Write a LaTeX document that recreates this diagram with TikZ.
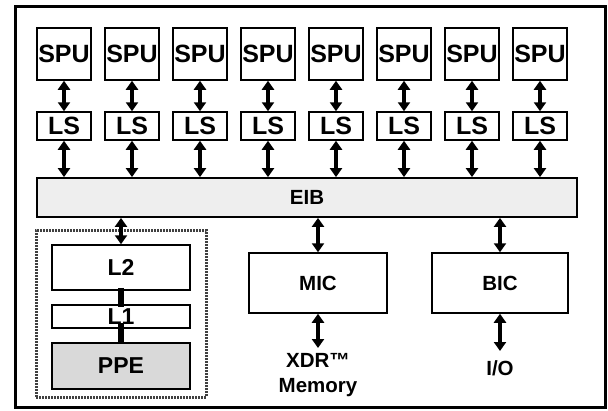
\documentclass[tikz,border=0pt]{standalone}
\usepackage{fontspec}
\setmainfont{Liberation Sans}
\usepackage{tikz}
\usetikzlibrary{arrows.meta,positioning}
\definecolor{BusGray}{HTML}{EEEEEE}
\definecolor{CoreGray}{HTML}{D9D9D9}
\definecolor{FrameGray}{HTML}{404040}
\newcommand{\bigtxt}{\fontsize{25}{28}\selectfont\bfseries}
\newcommand{\midtxt}{\fontsize{23}{26}\selectfont\bfseries}
\newcommand{\smalltxt}{\fontsize{20.5}{25}\selectfont\bfseries}

\begin{document}
\begin{tikzpicture}[x=1pt,y=-1pt,
  unitbox/.style={draw,line width=1.5pt,inner sep=0pt,minimum width=54pt},
  cachebox/.style={draw,line width=1.5pt,inner sep=0pt,minimum width=138pt,font=\midtxt},
  ctrlbox/.style={draw,line width=1.5pt,inner sep=0pt,minimum height=60pt,font=\smalltxt},
  dblarrow/.style={line width=3.5pt,{Triangle[width=12pt,length=9pt]}-{Triangle[width=12pt,length=9pt]}},
  portbar/.style={line width=5.5pt}]
 \useasboundingbox (0,0) rectangle (608,410);
 \draw[line width=3pt] (15,6) rectangle (605,407);
 % element interconnect bus
 \node[draw,line width=1.8pt,fill=BusGray,minimum width=540pt,minimum height=39pt,
   inner sep=0pt,font=\smalltxt] (eib) at (307,197.5) {EIB};
 % SPU / LS columns
 \foreach \i in {1,...,8}{
   \node[unitbox,minimum height=52pt,font=\bigtxt] (spu\i) at ({64+68*(\i-1)},54) {SPU};
   \node[unitbox,minimum height=28pt,font=\bigtxt] (ls\i) at ({64+68*(\i-1)},126) {LS};
   \draw[dblarrow] (spu\i.south) -- (ls\i.north);
   \draw[dblarrow] (ls\i.south) -- (ls\i.south |- eib.north);}
 % PPE element
 \node[draw=FrameGray,line width=3pt,dash pattern=on 2pt off 1pt,minimum width=170pt,
   minimum height=167pt,inner sep=0pt] (ppeframe) at (121,313.5) {};
 \node[cachebox,minimum height=45pt] (l2) at (121,267.5) {L2};
 \node[cachebox,minimum height=23pt] (l1) at (121,316.5) {L1};
 \node[cachebox,minimum height=46pt,fill=CoreGray] (ppe) at (121,366) {PPE};
 \draw[portbar] ([yshift=3pt]l2.south) -- ([yshift=-3pt]l1.north);
 \draw[portbar] ([yshift=6pt]l1.south) -- ([yshift=-2pt]ppe.north);
 \draw[dblarrow] (eib.south -| l2.north) -- (l2.north);
 % memory and I/O controllers
 \node[ctrlbox,minimum width=138pt] (mic) at (318,283) {MIC};
 \node[ctrlbox,minimum width=136pt] (bic) at (500,283) {BIC};
 \draw[dblarrow] (eib.south -| mic.north) -- (mic.north);
 \draw[dblarrow] (eib.south -| bic.north) -- (bic.north);
 \node[font=\smalltxt,align=center,inner sep=0pt,anchor=north] (xdr) at (318,353) {XDR™\\Memory};
 \node[font=\smalltxt,inner sep=0pt,anchor=north] (io) at (500,360) {I/O};
 \draw[dblarrow] (mic.south) -- ([yshift=5pt]xdr.north);
 \draw[dblarrow] (bic.south) -- ([yshift=9pt]io.north);
\end{tikzpicture}
\end{document}
